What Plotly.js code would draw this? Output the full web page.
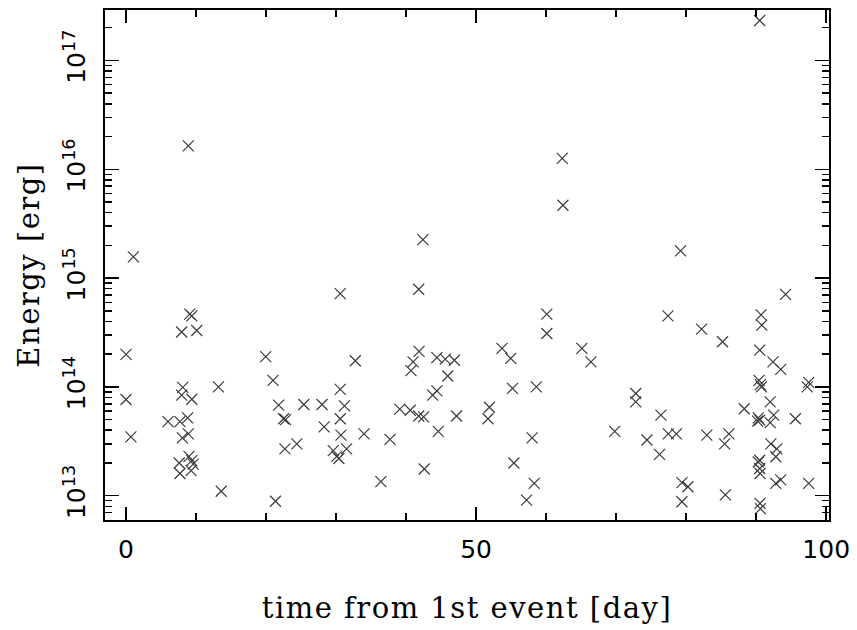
<!DOCTYPE html>
<html>
<head>
<meta charset="utf-8">
<script src="https://cdn.plot.ly/plotly-3.0.1.min.js"></script>
<style>html,body{margin:0;padding:0;background:#fff;}#chart{width:857px;height:630px;}
.xtitle,.ytitle{letter-spacing:1.5px;}</style>
</head>
<body>
<div id="chart"></div>
<script>
// time from 1st event [day]
const days = [
  0.0, 0.0, 0.7, 1.05, 6.0, 7.7, 8.8, 7.95, 9.1, 9.4,
  10.1, 8.1, 7.95, 9.4, 8.05, 8.9, 7.6, 7.7, 9.0, 9.4,
  9.6, 9.3, 8.9, 13.2, 13.6, 19.95, 21.0, 21.8, 21.35, 22.5,
  22.8, 22.7, 24.4, 25.4, 28.0, 28.3, 30.6, 31.2, 30.6, 30.7,
  31.5, 29.6, 30.1, 30.4, 30.6, 32.75, 34.0, 36.4, 37.7, 39.1,
  40.6, 41.8, 42.5, 47.2, 40.7, 41.0, 41.85, 41.8, 42.4, 44.4,
  45.6, 46.9, 45.95, 43.8, 44.4, 44.6, 42.6, 51.9, 51.7, 53.7,
  54.95, 55.2, 55.4, 57.2, 58.0, 58.3, 58.6, 60.1, 60.1, 62.3,
  62.4, 65.1, 66.4, 69.8, 72.8, 72.8, 74.4, 76.2, 76.4, 77.4,
  77.45, 78.6, 79.2, 79.4, 80.25, 79.4, 82.2, 82.95, 85.2, 85.5,
  86.1, 85.6, 88.3, 90.5, 90.7, 90.8, 90.5, 90.4, 90.6, 90.75,
  90.3, 90.5, 90.2, 90.5, 90.3, 90.5, 90.55, 90.55, 90.6, 92.0,
  92.5, 92.0, 92.1, 92.95, 92.8, 92.8, 93.5, 92.4, 93.5, 94.2,
  95.6, 97.5, 97.3, 97.5
];
// Energy [erg]
const energy = [
  1.99e14, 7.67e13, 3.48e13, 1.57e15, 4.8e13, 4.8e13, 5.2e13, 3.2e14, 4.66e14, 4.5e14,
  3.3e14, 9.9e13, 8.4e13, 7.7e13, 3.4e13, 3.7e13, 2.0e13, 1.6e13, 2.3e13, 2.1e13,
  1.95e13, 1.7e13, 1.64e16, 1.0e14, 1.1e13, 1.9e14, 1.15e14, 6.8e13, 8.9e12, 5.1e13,
  5.0e13, 2.7e13, 3.0e13, 6.9e13, 6.9e13, 4.3e13, 9.5e13, 6.7e13, 5.1e13, 3.6e13,
  2.7e13, 2.6e13, 2.3e13, 2.2e13, 7.2e14, 1.74e14, 3.7e13, 1.35e13, 3.3e13, 6.25e13,
  6.1e13, 5.4e13, 5.3e13, 5.4e13, 1.41e14, 1.7e14, 2.12e14, 7.9e14, 2.26e15, 1.86e14,
  1.8e14, 1.76e14, 1.26e14, 8.4e13, 9.2e13, 3.9e13, 1.76e13, 6.5e13, 5.1e13, 2.26e14,
  1.83e14, 9.7e13, 2.0e13, 9.1e12, 3.4e13, 1.3e13, 1.0e14, 4.66e14, 3.1e14, 1.26e16,
  4.67e15, 2.26e14, 1.7e14, 3.9e13, 8.7e13, 7.3e13, 3.25e13, 2.4e13, 5.5e13, 4.5e14,
  3.7e13, 3.7e13, 1.78e15, 1.32e13, 1.21e13, 8.8e12, 3.4e14, 3.6e13, 2.6e14, 3.0e13,
  3.7e13, 1.02e13, 6.3e13, 2.33e17, 4.6e14, 3.7e14, 2.18e14, 1.15e14, 1.05e14, 1.0e14,
  5.2e13, 4.95e13, 4.85e13, 2.12e13, 2.04e13, 1.78e13, 1.6e13, 8.5e12, 7.6e12, 7.3e13,
  5.5e13, 4.7e13, 3.0e13, 2.7e13, 2.28e13, 1.3e13, 1.4e13, 1.7e14, 1.45e14, 7.1e14,
  5.1e13, 1.1e14, 1.0e14, 1.3e13
];
const xTickVals = [0, 50, 100];
const xTickText = ['0', '50', '100'];
const yTickVals = [1e13, 1e14, 1e15, 1e16, 1e17];
const yTickText = ['10<sup>13</sup>', '10<sup>14</sup>', '10<sup>15</sup>', '10<sup>16</sup>', '10<sup>17</sup>'];

const trace = {
  x: days, y: energy, type: 'scatter', mode: 'markers',
  marker: {symbol: 'x-thin-open', size: 11, color: '#3a3a3a', line: {width: 1.2, color: '#3a3a3a'}},
  hoverinfo: 'skip'
};
const tickFont = {family: 'DejaVu Sans', size: 25, color: '#000'};
const titleFont = {family: 'DejaVu Serif', size: 29, color: '#000'};
const layout = {
  width: 857, height: 630,
  margin: {l: 105, r: 28, t: 10, b: 110},
  paper_bgcolor: '#fff', plot_bgcolor: '#fff',
  showlegend: false,
  xaxis: {
    range: [-3, 100.4], showgrid: false, zeroline: false,
    showline: true, linecolor: '#000', linewidth: 2, mirror: 'allticks',
    ticks: 'inside', ticklen: 13, tickwidth: 1.5, tickcolor: '#000',
    tickmode: 'array', tickvals: xTickVals, ticktext: xTickText,
    tickfont: tickFont, ticklabelstandoff: 6,
    minor: {ticks: 'inside', ticklen: 7, tickwidth: 1.5, tickcolor: '#000', dtick: 10, showgrid: false},
    title: {text: 'time from 1st event [day]', font: titleFont, standoff: 35}
  },
  yaxis: {
    type: 'log', range: [12.777, 17.464], showgrid: false, zeroline: false,
    showline: true, linecolor: '#000', linewidth: 2, mirror: 'allticks',
    ticks: 'inside', ticklen: 14, tickwidth: 1.5, tickcolor: '#000',
    tickmode: 'array', tickvals: yTickVals, ticktext: yTickText,
    tickangle: -90, tickfont: tickFont, ticklabelstandoff: 8,
    minor: {ticks: 'inside', ticklen: 7, tickwidth: 1.5, tickcolor: '#000', dtick: 'D1', showgrid: false},
    title: {text: 'Energy [erg]', font: titleFont, standoff: 10}
  }
};
Plotly.newPlot('chart', [trace], layout, {staticPlot: true, displayModeBar: false});
</script>
</body>
</html>
